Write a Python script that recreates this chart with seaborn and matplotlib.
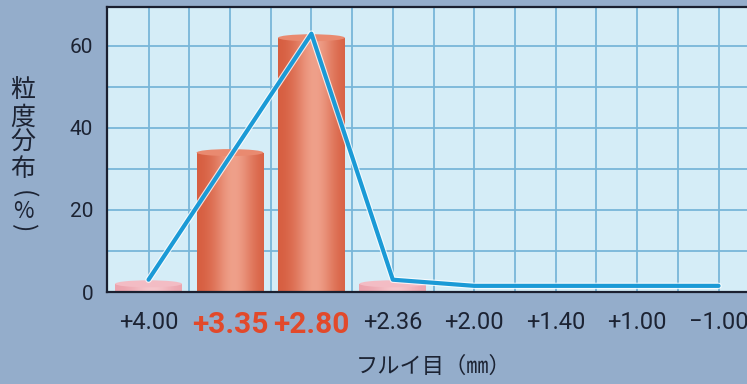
import numpy as np
import pandas as pd
import matplotlib
matplotlib.use("Agg")
import matplotlib.pyplot as plt
import matplotlib.patheffects as pe
from matplotlib.patches import Ellipse
from matplotlib.colors import to_rgb
import seaborn as sns

# sieve openings (mm) and particle-size distribution (%)
sizes = ["+4.00", "+3.35", "+2.80", "+2.36", "+2.00", "+1.40", "+1.00", "\u22121.00"]
bar_pct = [2, 34, 62, 2, 0, 0, 0, 0]
line_pct = [3, 33, 63, 3, 1.5, 1.5, 1.5, 1.5]
highlight = ["+3.35", "+2.80"]
yticks = [0, 20, 40, 60]

FIG_BG = "#94adcb"
PLOT_BG = "#d5edf7"
GRID = "#78b6d8"
SPINE = "#1b2030"
LINE = "#1b9ad6"
RED = "#e2492a"
DARK = "#1c2333"
CJK = ["Noto Sans CJK JP", "DejaVu Sans"]

sns.set_theme(style="white")
plt.rcParams["font.family"] = ["Roboto", "Noto Sans CJK JP", "DejaVu Sans"]

fig = plt.figure(figsize=(7.47, 3.84), dpi=100, facecolor=FIG_BG)
W, H = 747, 384
left, right, top, bottom = 107, 800, 7, 292
ax = fig.add_axes([left / W, 1 - bottom / H, (right - left) / W, (bottom - top) / H])
ax.set_facecolor(PLOT_BG)

df = pd.DataFrame({"size": sizes, "pct": bar_pct})
sns.barplot(data=df, x="size", y="pct", order=sizes, width=0.82,
            color="#dd6a4c", saturation=1, ax=ax, zorder=3)

ax.set_xlim(-0.51, 8.0)
ax.set_ylim(0, 69.5)

# cylinder shading on each bar
px_per_unit = (bottom - top) / 69.5
cap_h = 7 / px_per_unit
for patch, val in zip(ax.patches, bar_pct):
    if val <= 0:
        patch.set_visible(False)
        continue
    x0, w, h = patch.get_x(), patch.get_width(), patch.get_height()
    if val < 10:
        base, light, capc = to_rgb("#eca2ac"), to_rgb("#f6c6cc"), "#f3bcc4"
    else:
        base, light, capc = to_rgb("#d65c3e"), to_rgb("#efa08a"), "#e98a70"
    t = np.linspace(0, 1, 200)
    prof = np.exp(-((t - 0.55) / 0.3) ** 2)
    grad = np.array([[np.array(base) * (1 - p) + np.array(light) * p for p in prof]])
    patch.set_facecolor("none")
    patch.set_edgecolor("none")
    im = ax.imshow(grad, extent=[x0, x0 + w, 0, h], aspect="auto",
                   interpolation="bicubic", zorder=3)
    im.set_clip_path(patch)
    ax.add_patch(Ellipse((x0 + w / 2, h), w, cap_h, facecolor=capc,
                         edgecolor="none", zorder=3.5))

# distribution line with light outline
sns.lineplot(x=np.arange(len(sizes)), y=line_pct, ax=ax, color=LINE,
             linewidth=3, zorder=5,
             path_effects=[pe.Stroke(linewidth=4.6, foreground="white", alpha=0.8),
                           pe.Normal()])

# grid every half category and every 10 %
ax.xaxis.remove_overlapping_locs = False
ax.yaxis.remove_overlapping_locs = False
ax.set_xticks(np.arange(0, 8.01, 0.5), minor=True)
ax.set_yticks(np.arange(0, 70, 10), minor=True)
ax.grid(which="minor", color=GRID, linewidth=1.3, zorder=1)
ax.grid(which="major", visible=False)
ax.set_axisbelow(True)

ax.set_yticks(yticks)
ax.set_yticklabels([str(v) for v in yticks], fontsize=15, color=DARK)
ax.set_xticks(np.arange(len(sizes)))
ax.set_xticklabels(sizes, fontsize=17, color=DARK)
for lab, s in zip(ax.get_xticklabels(), sizes):
    if s in highlight:
        lab.set_color(RED)
        lab.set_fontweight("bold")
        lab.set_fontsize(21.5)
ax.tick_params(axis="x", which="both", length=0, pad=14)
ax.tick_params(axis="y", which="both", length=0, pad=10)
ax.set_xlabel("")
ax.set_ylabel("")

for side in ["left", "bottom", "top"]:
    ax.spines[side].set_visible(True)
    ax.spines[side].set_color(SPINE)
    ax.spines[side].set_linewidth(1.6)
    ax.spines[side].set_zorder(6)
ax.spines["right"].set_visible(False)

# vertical y-axis title, one character per row
ytitle = [("粒", 90, 0, 18), ("度", 118, 0, 18), ("分", 143, 0, 18), ("布", 169, 0, 18),
          ("(", 194, -90, 18), ("%", 211, 0, 16), (")", 228, -90, 18)]
for ch, yc, rot, fs in ytitle:
    fig.text(23 / W, 1 - yc / H, ch, ha="center", va="center", rotation=rot,
             fontsize=fs, color=DARK, family=CJK)

fig.text(434 / W, 1 - 366 / H, "フルイ目（㎜）", ha="center", va="center",
         fontsize=16, color=DARK, family=CJK)

fig.savefig("out.png", dpi=100, facecolor=FIG_BG)
